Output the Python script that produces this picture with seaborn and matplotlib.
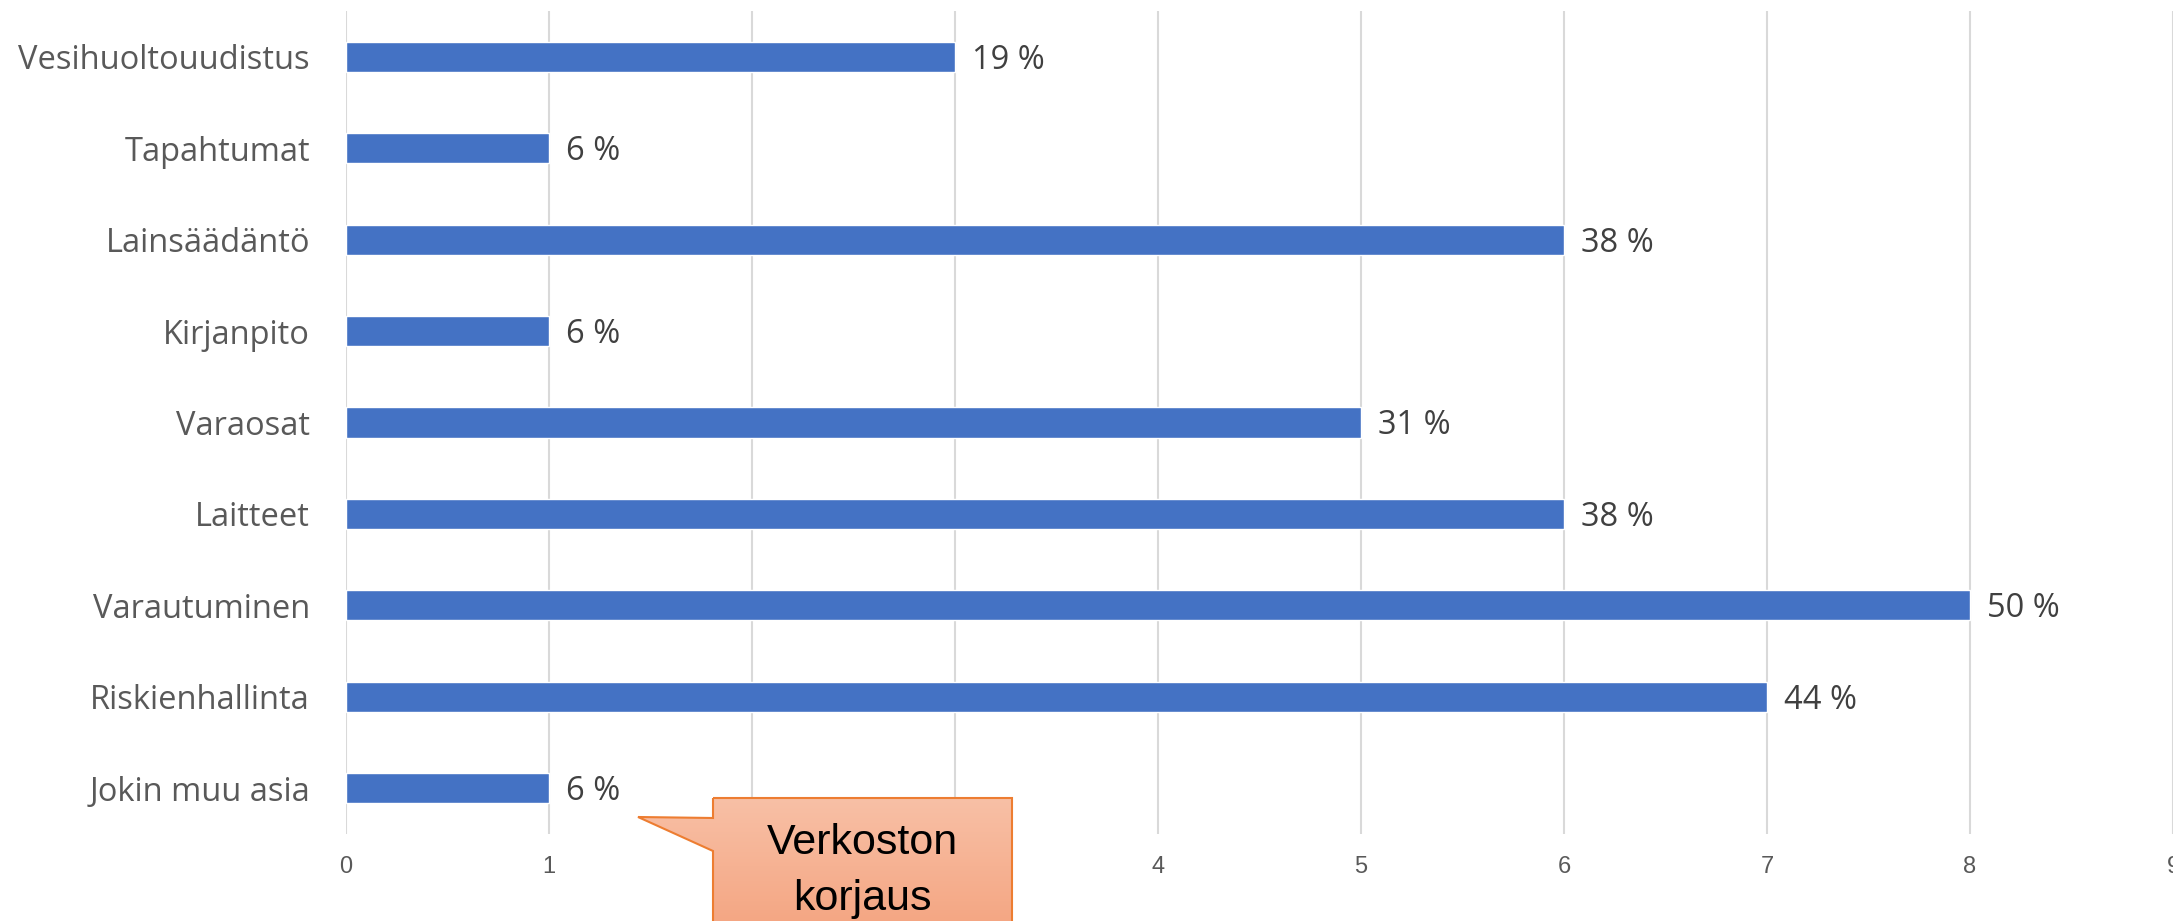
import numpy as np
import pandas as pd
import seaborn as sns
import matplotlib
matplotlib.use("Agg")
from matplotlib import pyplot as plt
from matplotlib.patches import Polygon

# Chart data
categories = ["Vesihuoltouudistus", "Tapahtumat", "Lainsäädäntö", "Kirjanpito",
              "Varaosat", "Laitteet", "Varautuminen", "Riskienhallinta", "Jokin muu asia"]
counts = [3, 1, 6, 1, 5, 6, 8, 7, 1]
percent_labels = ["19 %", "6 %", "38 %", "6 %", "31 %", "38 %", "50 %", "44 %", "6 %"]
x_ticks = [0, 1, 2, 3, 4, 5, 6, 7, 8, 9]
callout_text = "Verkoston\nkorjaus"

df = pd.DataFrame({"aihe": categories, "lkm": counts})

sns.set_theme(style="white")
plt.rcParams["font.family"] = ["Open Sans", "DejaVu Sans"]

W, H = 2173, 921
fig = plt.figure(figsize=(W / 100, H / 100), dpi=100)
ax = fig.add_axes([346 / W, (H - 834) / H, (W - 346) / W, (834 - 11) / H])

sns.barplot(data=df, x="lkm", y="aihe", orient="h", color="#4472C4",
            width=0.33, saturation=1, ax=ax)

anns = ax.bar_label(ax.containers[0], labels=percent_labels, padding=12,
                    fontsize=23.5, color="#404040", family=["Open Sans", "DejaVu Sans"])
# nudge labels down a little so they sit centred on the bars
for a in anns:
    a.xyann = (12, -2.5)

ax.set_xlim(0, 9)
ax.set_ylim(8.5, -0.5)
ax.set_xticks(x_ticks)
ax.set_xticklabels([str(t) for t in x_ticks], fontsize=17, color="#595959",
                   family=["Liberation Sans", "DejaVu Sans"])
ax.tick_params(axis="x", length=0, pad=16)
ax.tick_params(axis="y", length=0, pad=26, labelsize=23.5, labelcolor="#595959")
ax.set_xlabel("")
ax.set_ylabel("")
ax.grid(axis="x", color="#D9D9D9", linewidth=1.5)
ax.grid(axis="y", visible=False)
ax.set_axisbelow(True)
for s in ax.spines.values():
    s.set_visible(False)

# Callout box in figure pixel coordinates
ov = fig.add_axes([0, 0, 1, 1], zorder=5)
ov.set_xlim(0, W)
ov.set_ylim(H, 0)
ov.axis("off")
ov.patch.set_alpha(0)
pts = [(713, 798), (1012, 798), (1012, 935), (713, 935), (713, 851),
       (638, 817), (713, 818)]
poly = Polygon(pts, closed=True, facecolor="none", edgecolor="#ED7D31",
               linewidth=1.5, zorder=3)
ov.add_patch(poly)
top = np.array([0xF8, 0xC0, 0xA6]) / 255
bot = np.array([0xF4, 0xA4, 0x80]) / 255
t = np.linspace(0, 1, 200)[:, None]
grad = (top * (1 - t) + bot * t)[:, None, :]
grad = np.repeat(grad, 2, axis=1)
im = ov.imshow(grad, extent=(630, 1015, 935, 798), aspect="auto", zorder=2)
im.set_clip_path(poly)
ov.text(862, 871, callout_text, ha="center", va="center", fontsize=31,
        color="black", linespacing=1.5, family=["Liberation Sans", "DejaVu Sans"],
        zorder=4)
ov.set_xlim(0, W)
ov.set_ylim(H, 0)

fig.savefig("out.png", dpi=100)
